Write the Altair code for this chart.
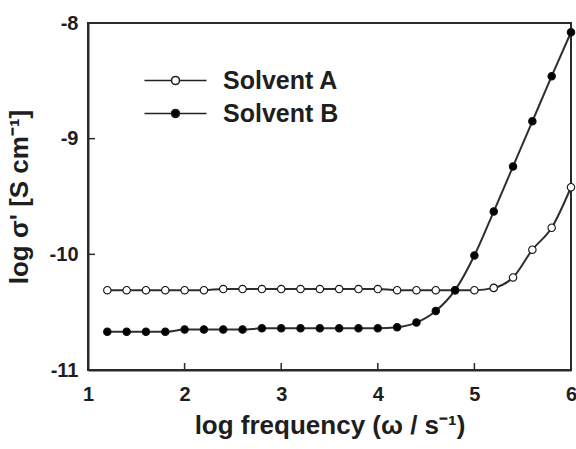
import altair as alt
import pandas as pd

# log frequency (x) shared by both series
log_freq = [1.2, 1.4, 1.6, 1.8, 2.0, 2.2, 2.4, 2.6, 2.8, 3.0, 3.2, 3.4, 3.6,
            3.8, 4.0, 4.2, 4.4, 4.6, 4.8, 5.0, 5.2, 5.4, 5.6, 5.8, 6.0]

# log conductivity for each solvent
solvent_a = [-10.31, -10.31, -10.31, -10.31, -10.31, -10.31, -10.30, -10.30,
             -10.30, -10.30, -10.30, -10.30, -10.30, -10.30, -10.30, -10.31,
             -10.31, -10.31, -10.31, -10.31, -10.29, -10.20, -9.96, -9.77, -9.42]
solvent_b = [-10.67, -10.67, -10.67, -10.67, -10.65, -10.65, -10.65, -10.65,
             -10.64, -10.64, -10.64, -10.64, -10.64, -10.64, -10.64, -10.63,
             -10.59, -10.49, -10.31, -10.01, -9.63, -9.24, -8.85, -8.46, -8.08]

series_names = ["Solvent A", "Solvent B"]
marker_fills = ["white", "black"]

x_tick_values = [1, 2, 3, 4, 5, 6]
y_tick_values = [-11, -10, -9, -8]
x_inner_ticks = [2, 3, 4, 5]
y_inner_ticks = [-10, -9]

df = pd.DataFrame({
    "log_freq": log_freq * 2,
    "log_sigma": solvent_a + solvent_b,
    "series": [series_names[0]] * len(solvent_a) + [series_names[1]] * len(solvent_b),
})

W, H = 483, 347
INK = "#2a2a2a"
TEXT = "#1e1e1e"
FONT = "Liberation Sans"

x_scale = alt.Scale(domain=[1, 6], nice=False, zero=False)
y_scale = alt.Scale(domain=[-11, -8], nice=False, zero=False)

# plain integer labels with an ASCII hyphen for negatives
plain_label = "datum.value + ''"

x_enc = alt.X(
    "log_freq:Q", scale=x_scale,
    axis=alt.Axis(values=x_tick_values, title="log frequency (ω / s⁻¹)",
                  labelExpr=plain_label, labelPadding=14, titlePadding=8,
                  labelFlush=False),
)
y_enc = alt.Y(
    "log_sigma:Q", scale=y_scale,
    axis=alt.Axis(values=y_tick_values, title="log σ' [S cm⁻¹]",
                  labelExpr=plain_label, labelPadding=10, titlePadding=17,
                  labelFlush=False),
)

# legend glyph: line segment with a circle part-way along it
legend_symbol = (
    "M-6.75,0H-3.375M-2.375,0H1"
    "M-3.375,0A0.5,0.5 0 1,0 -2.375,0A0.5,0.5 0 1,0 -3.375,0Z"
)

lines = alt.Chart(df).mark_line(
    color="#2e2e2e", strokeWidth=2, interpolate="monotone"
).encode(x=x_enc, y=y_enc, detail="series:N")

points = alt.Chart(df).mark_point(
    shape="circle", filled=True, size=55, stroke="#111111",
    strokeWidth=1.1, opacity=1,
).encode(
    x="log_freq:Q",
    y="log_sigma:Q",
    fill=alt.Fill(
        "series:N",
        scale=alt.Scale(domain=series_names, range=marker_fills),
        legend=alt.Legend(
            title=None, orient="none", legendX=98, legendY=45,
            symbolType=legend_symbol, symbolSize=256,
            symbolStrokeColor="#222222", symbolStrokeWidth=1.6,
            labelFont=FONT, labelFontSize=25, labelFontWeight="bold",
            labelColor=TEXT, labelOffset=12, rowPadding=7, padding=0,
        ),
    ),
)

x_ticks = alt.Chart(pd.DataFrame({"v": x_inner_ticks})).mark_rule(
    color=INK, strokeWidth=1.5
).encode(x="v:Q", y=alt.value(H), y2=alt.value(H - 7))

y_ticks = alt.Chart(pd.DataFrame({"v": y_inner_ticks})).mark_rule(
    color=INK, strokeWidth=1.5
).encode(y="v:Q", x=alt.value(0), x2=alt.value(7))

chart = alt.layer(lines, points, x_ticks, y_ticks).properties(
    width=W, height=H,
    autosize=alt.AutoSizeParams(type="none"),
    padding={"left": 88, "top": 23, "right": 5, "bottom": 79},
    background="white",
).configure_view(
    stroke=INK, strokeWidth=2
).configure_axis(
    grid=False, ticks=False, tickSize=0,
    domainColor=INK, domainWidth=2,
    labelFont=FONT, labelFontSize=20, labelFontWeight="bold", labelColor=TEXT,
    titleFont=FONT, titleFontSize=26, titleFontWeight="bold", titleColor=TEXT,
)

chart.save("out.html", embed_options={"renderer": "svg", "actions": False})
